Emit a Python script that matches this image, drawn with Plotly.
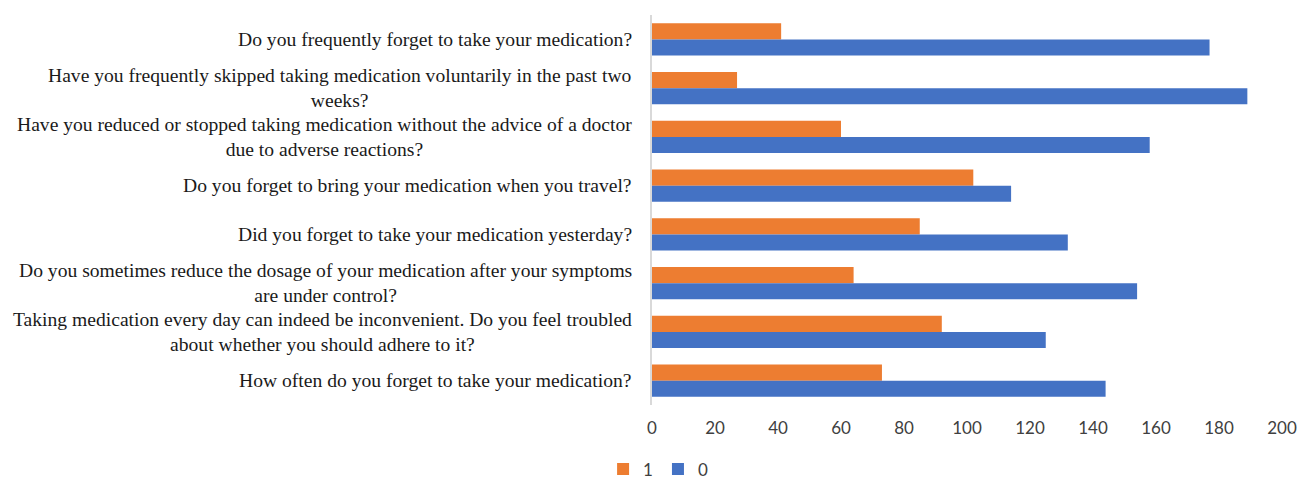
import plotly.graph_objects as go

questions = [
    "Do you frequently forget to take your medication?",
    "Have you frequently skipped taking medication voluntarily in the past two<br>weeks?",
    "Have you reduced or stopped taking medication without the advice of a doctor<br>due to adverse reactions?",
    "Do you forget to bring your medication when you travel?",
    "Did you forget to take your medication yesterday?",
    "Do you sometimes reduce the dosage of your medication after your symptoms<br>are under control?",
    "Taking medication every day can indeed be inconvenient. Do you feel troubled<br>about whether you should adhere to it?",
    "How often do you forget to take your medication?",
]
values_1 = [41, 27, 60, 102, 85, 64, 92, 73]
values_0 = [177, 189, 158, 114, 132, 154, 125, 144]
x_ticks = [0, 20, 40, 60, 80, 100, 120, 140, 160, 180, 200]

ids = [f"q{i}" for i in range(len(questions))]

fig = go.Figure()
fig.add_trace(go.Bar(y=ids, x=values_1, name="1", orientation="h",
                     marker=dict(color="#ED7D31", line=dict(width=0))))
fig.add_trace(go.Bar(y=ids, x=values_0, name="0", orientation="h",
                     marker=dict(color="#4472C4", line=dict(width=0))))

for qid, q in zip(ids, questions):
    fig.add_annotation(x=0, xref="paper", y=qid, yref="y", text=q,
                       xanchor="right", yanchor="middle", align="center",
                       xshift=-18, showarrow=False,
                       font=dict(family="Liberation Serif", size=19.6, color="#1a1a1a"))

fig.update_layout(
    width=1298, height=479,
    margin=dict(l=652, r=16, t=15, b=74, autoexpand=False),
    paper_bgcolor="white", plot_bgcolor="white",
    barmode="group", bargap=0.34, bargroupgap=0,
    font=dict(family="Lato", size=16, color="#404040"),
    xaxis=dict(range=[0, 200], tickvals=x_ticks, showgrid=False, zeroline=False,
               showline=False, ticks="", ticklabelstandoff=11, automargin=False,
               tickfont=dict(family="Lato", size=17, color="#404040")),
    yaxis=dict(autorange="reversed", showticklabels=False, showgrid=False,
               zeroline=False, showline=True, linecolor="#d9d9d9", linewidth=2,
               ticks="", automargin=False),
    legend=dict(orientation="h", xref="container", yref="container",
                x=0.507, y=0.02, xanchor="center", yanchor="middle",
                font=dict(family="Lato", size=17, color="#404040"),
                itemwidth=30),
    showlegend=True,
)

fig.write_html("out.html")
